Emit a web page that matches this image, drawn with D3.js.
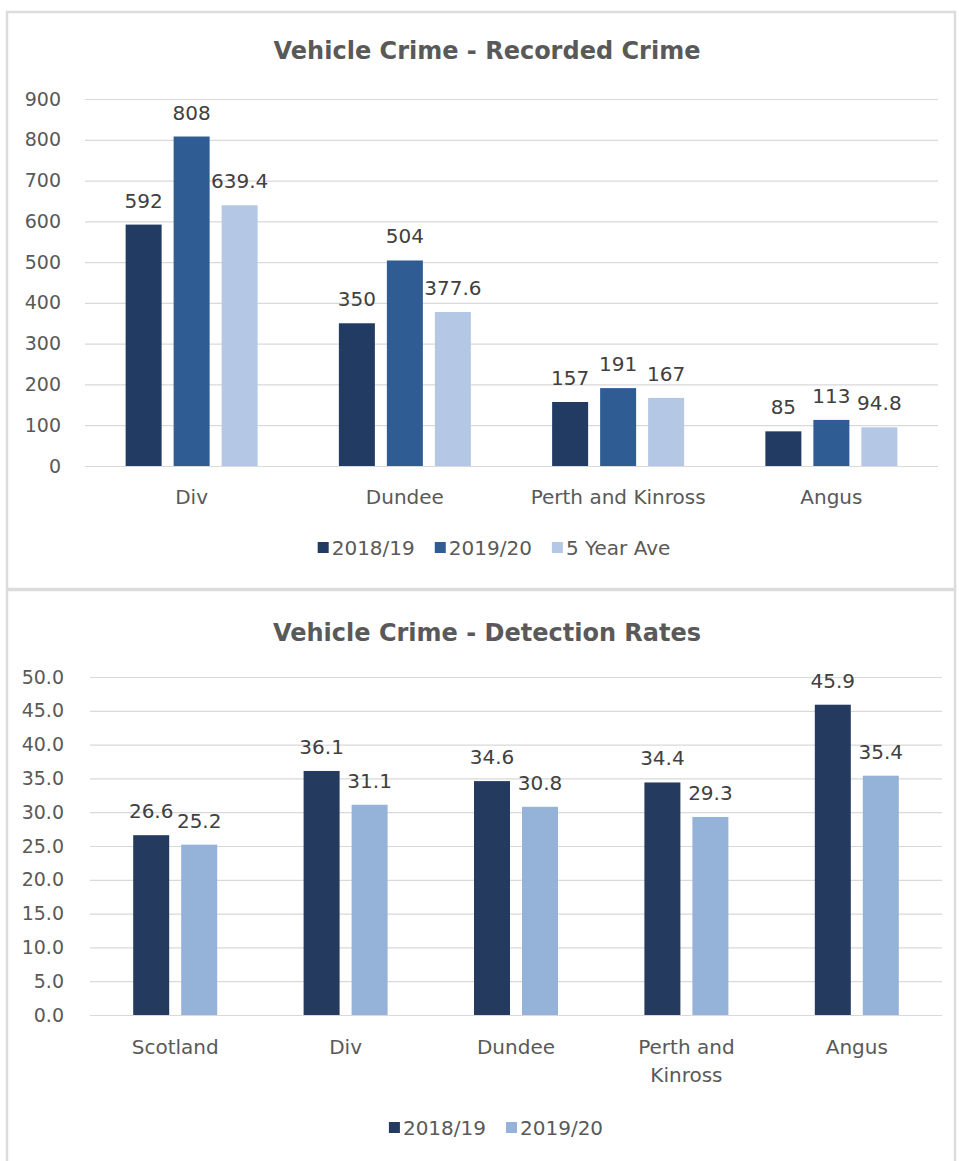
<!DOCTYPE html>
<html><head><meta charset="utf-8">
<script src="https://cdn.jsdelivr.net/npm/d3@7"></script>
<style>
html,body{margin:0;padding:0;background:#fff;}
svg{display:block;}
text{font-family:"DejaVu Sans",sans-serif;}
</style></head>
<body>
<svg id="c" width="959" height="1161"></svg>
<script>
// ---- Data: chart 1 ----
const recCategories = ["Div","Dundee","Perth and Kinross","Angus"];
const recSeries = ["2018/19","2019/20","5 Year Ave"];
const rec2018 = [592,350,157,85];
const rec2019 = [808,504,191,113];
const rec5yr = [639.4,377.6,167,94.8];
const recTicks = [0,100,200,300,400,500,600,700,800,900];

// ---- Data: chart 2 ----
const detCategories = ["Scotland","Div","Dundee","Perth and Kinross","Angus"];
const detSeries = ["2018/19","2019/20"];
const det2018 = [26.6,36.1,34.6,34.4,45.9];
const det2019 = [25.2,31.1,30.8,29.3,35.4];
const detTicks = [0,5,10,15,20,25,30,35,40,45,50];

const svg = d3.select("#c");
const gridCol = "#d9d9d9", tickCol = "#595959", labCol = "#404040";

// panel borders
const frame = svg.append("g");
frame.append("rect").attr("x",7).attr("y",12).attr("width",948).attr("height",577)
  .attr("fill","none").attr("stroke","#dcdcdc").attr("stroke-width",2.5);
frame.append("rect").attr("x",7).attr("y",590).attr("width",948).attr("height",580)
  .attr("fill","none").attr("stroke","#dcdcdc").attr("stroke-width",2.5);

function drawChart(o){
  const g = svg.append("g");
  g.append("text").attr("x",o.titleX).attr("y",o.titleY).attr("text-anchor","middle")
    .attr("font-weight","bold").attr("font-size",24).attr("fill","#595959").text(o.title);
  const y = d3.scaleLinear().domain([o.ticks[0],o.ticks[o.ticks.length-1]]).range([o.y0,o.y1]);
  const x0 = d3.scaleBand().domain(o.categories).range([o.xL,o.xR]).paddingInner(o.pad).paddingOuter(o.pad/2);
  const x1 = d3.scaleBand().domain(o.series).range([0,x0.bandwidth()]).paddingInner(0.25).paddingOuter(0);
  // grid
  const ax = d3.axisLeft(y).tickValues(o.ticks).tickSize(-(o.xR-o.xL)).tickFormat(o.fmt).tickPadding(o.tickPad);
  const ga = g.append("g").attr("transform",`translate(${o.xL},0)`).call(ax);
  ga.select(".domain").remove();
  ga.selectAll(".tick line").attr("stroke",gridCol).attr("stroke-width",1.2);
  ga.selectAll(".tick text").attr("fill",tickCol).attr("font-size",19).attr("font-family","DejaVu Sans, sans-serif");
  // bars
  o.series.forEach((s,si)=>{
    const vals = o.values[si];
    const gs = g.append("g");
    gs.selectAll("rect").data(o.categories).join("rect")
      .attr("x",(c)=>x0(c)+x1(s)).attr("width",x1.bandwidth())
      .attr("y",(c,i)=>y(vals[i])).attr("height",(c,i)=>y(0)-y(vals[i]))
      .attr("fill",o.colors[si]);
    gs.selectAll("text").data(o.categories).join("text")
      .attr("x",(c)=>x0(c)+x1(s)+x1.bandwidth()/2)
      .attr("y",(c,i)=>y(vals[i])-17)
      .attr("text-anchor","middle").attr("font-size",20).attr("fill",labCol)
      .text((c,i)=>o.labFmt(vals[i]));
  });
  // category labels
  o.categories.forEach(c=>{
    const t = g.append("text").attr("x",x0(c)+x0.bandwidth()/2).attr("y",o.catY)
      .attr("text-anchor","middle").attr("font-size",20).attr("fill",tickCol);
    const lines = o.wrap && o.wrap[c] ? o.wrap[c] : [c];
    lines.forEach((l,li)=>t.append("tspan").attr("x",x0(c)+x0.bandwidth()/2).attr("dy",li?28:0).text(l));
  });
  // legend
  const lg = g.append("g");
  let cx = 0;
  o.series.forEach((s,si)=>{
    const it = lg.append("g").attr("transform",`translate(${cx},0)`);
    it.append("rect").attr("x",0).attr("y",-6).attr("width",11).attr("height",11).attr("fill",o.colors[si]);
    const tt = it.append("text").attr("x",14).attr("y",7).attr("font-size",20).attr("fill",tickCol).text(s);
    const w = tt.node().getComputedTextLength();
    cx += 14 + w + 20;
  });
  const tw = cx - 20;
  lg.attr("transform",`translate(${o.legX - tw/2},${o.legY})`);
}

drawChart({
  title:"Vehicle Crime - Recorded Crime", titleX:487, titleY:59,
  categories:recCategories, series:recSeries, values:[rec2018,rec2019,rec5yr],
  colors:["#223b62","#2f5d93","#b4c8e5"], ticks:recTicks,
  fmt:d3.format("d"), labFmt:(v)=>String(v), tickPad:24,
  y0:466, y1:99, xL:85, xR:938, pad:1-132/213.25,
  catY:504, legX:494, legY:548
});

drawChart({
  title:"Vehicle Crime - Detection Rates", titleX:487, titleY:641,
  categories:detCategories, series:detSeries, values:[det2018,det2019],
  colors:["#243b5f","#95b3d9"], ticks:detTicks,
  fmt:d3.format(".1f"), labFmt:(v)=>v.toFixed(1), tickPad:26,
  y0:1015, y1:677, xL:90, xR:942, pad:1-84/170.4,
  catY:1054, legX:496, legY:1128,
  wrap:{"Perth and Kinross":["Perth and","Kinross"]}
});
</script>
</body></html>
